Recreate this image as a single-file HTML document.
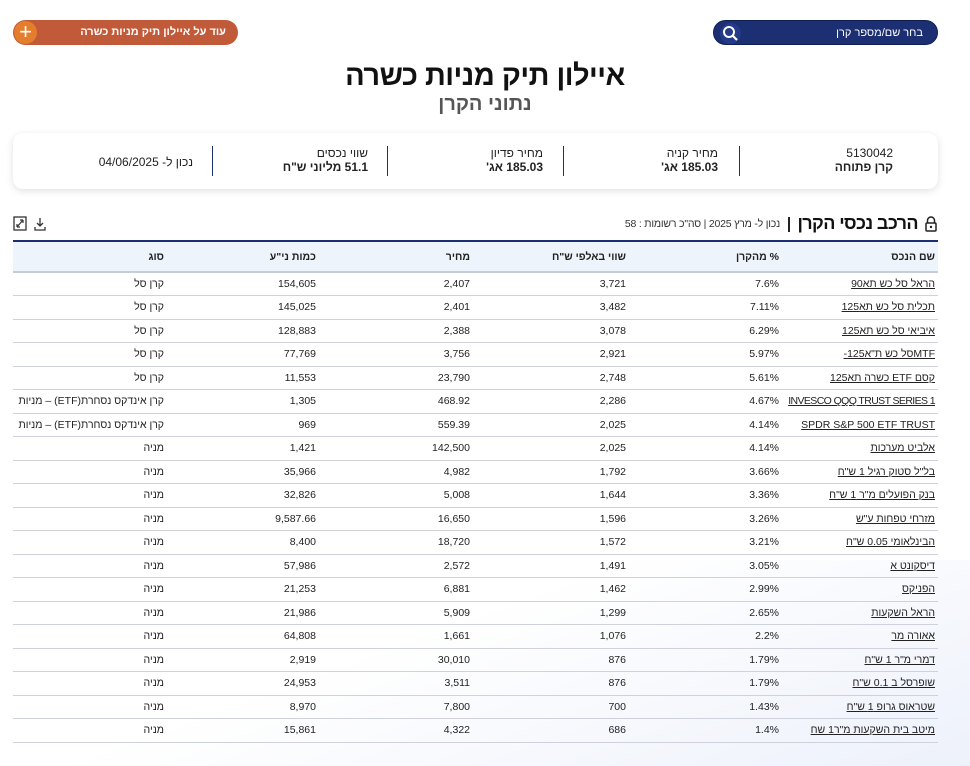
<!DOCTYPE html>
<html><head><meta charset="utf-8"><style>
*{margin:0;padding:0;box-sizing:border-box}
body{width:970px;height:766px;overflow:hidden;background:#fff;font-family:"Liberation Sans Narrow","Liberation Sans","DejaVu Sans Condensed",sans-serif;color:#222;position:relative}
.abs{position:absolute}
.bg{position:absolute;left:0;top:560px;width:970px;height:206px;background:linear-gradient(160deg,rgba(255,255,255,0) 40%,rgba(225,232,248,.6) 100%)}
.search{left:713px;top:20px;width:225px;height:25px;background:#1b2f72;border-radius:13px;border:1px solid #0f1f55}
.search span{position:absolute;right:14px;top:6px;color:#fff;font-size:11px}
.search i{position:absolute;left:6px;top:2px;width:21px;height:21px;border-radius:50%;background:#24398a}
.orange{left:13px;top:20px;width:225px;height:25px;background:#c15a39;border-radius:13px}
.orange span{position:absolute;right:12px;top:6px;color:#fff;font-size:11px;font-weight:bold}
.orange i{position:absolute;left:1px;top:1px;width:23px;height:23px;border-radius:50%;background:#e47d2c;color:#fff;font-style:normal;font-size:22px;line-height:22px;text-align:center}
h1{position:absolute;left:0;width:970px;top:60px;text-align:center;font-size:29px;font-weight:bold;color:#111;letter-spacing:-0.5px}
h2{position:absolute;left:0;width:970px;top:93px;text-align:center;font-size:20px;font-weight:bold;color:#555}
.card{left:13px;top:133px;width:925px;height:56px;border-radius:10px;box-shadow:0 2px 8px rgba(0,0,0,.12);background:#fff}
.dv{position:absolute;top:13px;width:1px;height:30px;background:#1b2f72}
.ct{position:absolute;font-size:12px;text-align:right;direction:rtl}
.ct b{display:block}
.sec{position:absolute;right:52px;top:213px;font-size:18px;font-weight:bold;color:#111;direction:rtl;white-space:nowrap;letter-spacing:-0.6px}
.meta{position:absolute;right:190px;top:218px;font-size:10.5px;color:#333;direction:rtl;white-space:nowrap;letter-spacing:-0.2px}
table{position:absolute;left:13px;top:240px;width:925px;border-collapse:collapse;font-size:10.5px;direction:rtl;table-layout:fixed}
thead tr{background:#eef4fb;height:31px;border-top:2px solid #1b2f72;border-bottom:2px solid #c8ccd8}
th{font-weight:bold;text-align:right;color:#222;white-space:nowrap}
td{text-align:right;height:23.5px;border-bottom:1px solid #cfd2dc;color:#222;white-space:nowrap;overflow:visible}
th:first-child,td:first-child{padding-right:3px}
td u{color:#222}
.sq{letter-spacing:-0.6px}
</style></head><body>
<div class="bg"></div>
<div class="abs search"><span>בחר שם/מספר קרן</span><i><svg width="21" height="21"><circle cx="9" cy="9" r="5" fill="none" stroke="#fff" stroke-width="2"/><line x1="13" y1="13" x2="17" y2="17" stroke="#fff" stroke-width="2.2"/></svg></i></div>
<div class="abs orange"><i>+</i><span>עוד על איילון תיק מניות כשרה</span></div>
<h1>איילון תיק מניות כשרה</h1>
<h2>נתוני הקרן</h2>
<div class="abs card">
<div class="ct" style="right:45px;top:13px">5130042<b>קרן פתוחה</b></div>
<div class="dv" style="left:726px"></div>
<div class="ct" style="right:220px;top:13px">מחיר קניה<b>185.03 אג'</b></div>
<div class="dv" style="left:550px"></div>
<div class="ct" style="right:395px;top:13px">מחיר פדיון<b>185.03 אג'</b></div>
<div class="dv" style="left:374px"></div>
<div class="ct" style="right:570px;top:13px">שווי נכסים<b>51.1 מליוני ש"ח</b></div>
<div class="dv" style="left:199px"></div>
<div class="ct" style="right:745px;top:22px">נכון ל- 04/06/2025</div>
</div>
<svg class="abs" style="left:924px;top:216px" width="14" height="16"><path d="M3.5 7V4.5a3.5 3.5 0 0 1 7 0V7" fill="none" stroke="#222" stroke-width="1.5"/><rect x="2" y="7" width="10" height="8" rx="1" fill="none" stroke="#222" stroke-width="1.5"/><circle cx="7" cy="11" r="1.2" fill="#222"/></svg>
<div class="sec">הרכב נכסי הקרן</div>
<div class="abs" style="left:788px;top:217px;width:1.5px;height:15px;background:#222"></div>
<div class="meta">נכון ל- מרץ 2025 | סה"כ רשומות : 58</div>
<svg class="abs" style="left:13px;top:216px" width="36" height="16"><rect x="1" y="1" width="12" height="13" fill="none" stroke="#333" stroke-width="1.3"/><path d="M4 11l6-7M10 4h-3M10 4v3M4 11h3M4 11v-3" stroke="#333" stroke-width="1.2" fill="none"/><path d="M27 2v8M24 7l3 3 3-3M22 11v3h10v-3" stroke="#333" stroke-width="1.3" fill="none"/></svg>
<table>
<colgroup><col style="width:159px"><col style="width:153px"><col style="width:156px"><col style="width:154px"><col style="width:152px"><col></colgroup>
<thead><tr><th>שם הנכס</th><th>% מהקרן</th><th>שווי באלפי ש"ח</th><th>מחיר</th><th>כמות ני"ע</th><th>סוג</th></tr></thead>
<tbody>
<tr><td><u>הראל סל כש תא90</u></td><td>7.6%</td><td>3,721</td><td>2,407</td><td>154,605</td><td>קרן סל</td></tr>
<tr><td><u>תכלית סל כש תא125</u></td><td>7.11%</td><td>3,482</td><td>2,401</td><td>145,025</td><td>קרן סל</td></tr>
<tr><td><u>איביאי סל כש תא125</u></td><td>6.29%</td><td>3,078</td><td>2,388</td><td>128,883</td><td>קרן סל</td></tr>
<tr><td><u>MTFסל כש ת"א125-</u></td><td>5.97%</td><td>2,921</td><td>3,756</td><td>77,769</td><td>קרן סל</td></tr>
<tr><td><u>קסם ETF כשרה תא125</u></td><td>5.61%</td><td>2,748</td><td>23,790</td><td>11,553</td><td>קרן סל</td></tr>
<tr><td><u class="sq">INVESCO QQQ TRUST SERIES 1</u></td><td>4.67%</td><td>2,286</td><td>468.92</td><td>1,305</td><td>קרן אינדקס נסחרת(ETF) – מניות</td></tr>
<tr><td><u>SPDR S&amp;P 500 ETF TRUST</u></td><td>4.14%</td><td>2,025</td><td>559.39</td><td>969</td><td>קרן אינדקס נסחרת(ETF) – מניות</td></tr>
<tr><td><u>אלביט מערכות</u></td><td>4.14%</td><td>2,025</td><td>142,500</td><td>1,421</td><td>מניה</td></tr>
<tr><td><u>בל"ל סטוק רגיל 1 ש"ח</u></td><td>3.66%</td><td>1,792</td><td>4,982</td><td>35,966</td><td>מניה</td></tr>
<tr><td><u>בנק הפועלים מ"ר 1 ש"ח</u></td><td>3.36%</td><td>1,644</td><td>5,008</td><td>32,826</td><td>מניה</td></tr>
<tr><td><u>מזרחי טפחות ע"ש</u></td><td>3.26%</td><td>1,596</td><td>16,650</td><td>9,587.66</td><td>מניה</td></tr>
<tr><td><u>הבינלאומי 0.05 ש"ח</u></td><td>3.21%</td><td>1,572</td><td>18,720</td><td>8,400</td><td>מניה</td></tr>
<tr><td><u>דיסקונט א</u></td><td>3.05%</td><td>1,491</td><td>2,572</td><td>57,986</td><td>מניה</td></tr>
<tr><td><u>הפניקס</u></td><td>2.99%</td><td>1,462</td><td>6,881</td><td>21,253</td><td>מניה</td></tr>
<tr><td><u>הראל השקעות</u></td><td>2.65%</td><td>1,299</td><td>5,909</td><td>21,986</td><td>מניה</td></tr>
<tr><td><u>אאורה מר</u></td><td>2.2%</td><td>1,076</td><td>1,661</td><td>64,808</td><td>מניה</td></tr>
<tr><td><u>דמרי מ"ר 1 ש"ח</u></td><td>1.79%</td><td>876</td><td>30,010</td><td>2,919</td><td>מניה</td></tr>
<tr><td><u>שופרסל ב 0.1 ש"ח</u></td><td>1.79%</td><td>876</td><td>3,511</td><td>24,953</td><td>מניה</td></tr>
<tr><td><u>שטראוס גרופ 1 ש"ח</u></td><td>1.43%</td><td>700</td><td>7,800</td><td>8,970</td><td>מניה</td></tr>
<tr><td><u>מיטב בית השקעות מ"ר1 שח</u></td><td>1.4%</td><td>686</td><td>4,322</td><td>15,861</td><td>מניה</td></tr>
</tbody></table>
</body></html>
